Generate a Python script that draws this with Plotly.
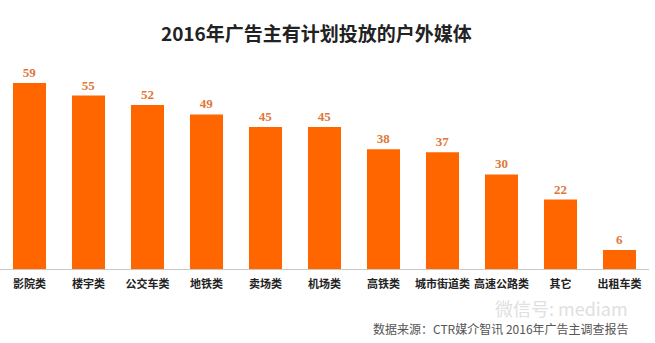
import plotly.graph_objects as go

categories = ["影院类", "楼宇类", "公交车类", "地铁类", "卖场类", "机场类", "高铁类", "城市街道类", "高速公路类", "其它", "出租车类"]
values = [59, 55, 52, 49, 45, 45, 38, 37, 30, 22, 6]
title_text = "2016年广告主有计划投放的户外媒体"
source_text = "数据来源：CTR媒介智讯 2016年广告主调查报告"
watermark_text = "微信号: mediam"

fig = go.Figure(go.Bar(
    x=categories,
    y=values,
    marker=dict(color="#FF6600", line=dict(width=0)),
    text=[str(v) for v in values],
    textposition="outside",
    textfont=dict(family="Liberation Serif, DejaVu Serif, serif", size=13, color="#E0773A", weight="bold"),
    cliponaxis=False,
))

fig.update_layout(
    width=655, height=343,
    margin=dict(l=0, r=6, t=64, b=74),
    paper_bgcolor="white",
    plot_bgcolor="white",
    bargap=0.44,
    showlegend=False,
    title=dict(
        text="<b>" + title_text + "</b>",
        x=0.483, xanchor="center", y=0.9, yanchor="middle",
        font=dict(family="Noto Sans CJK SC", size=19, color="#222222"),
    ),
    xaxis=dict(
        showgrid=False, showline=True, linecolor="#C8C8C8", linewidth=1,
        ticks="", tickangle=0,
        tickfont=dict(family="Noto Sans CJK SC", size=11, color="#222222", weight="bold"),
        ticklabelstandoff=5,
        range=[-0.5, 10.5],
    ),
    yaxis=dict(visible=False, range=[0, 65]),
    annotations=[
        dict(text=source_text, xref="paper", yref="paper", x=0.972, y=-0.29,
             xanchor="right", yanchor="middle", showarrow=False,
             font=dict(family="Noto Sans CJK SC", size=12, color="#555555")),
        dict(text=watermark_text, xref="paper", yref="paper", x=0.97, y=-0.19,
             xanchor="right", yanchor="middle", showarrow=False,
             font=dict(family="Noto Sans CJK SC", size=18, color="#E0E0E0")),
    ],
)

fig.write_html("out.html")
